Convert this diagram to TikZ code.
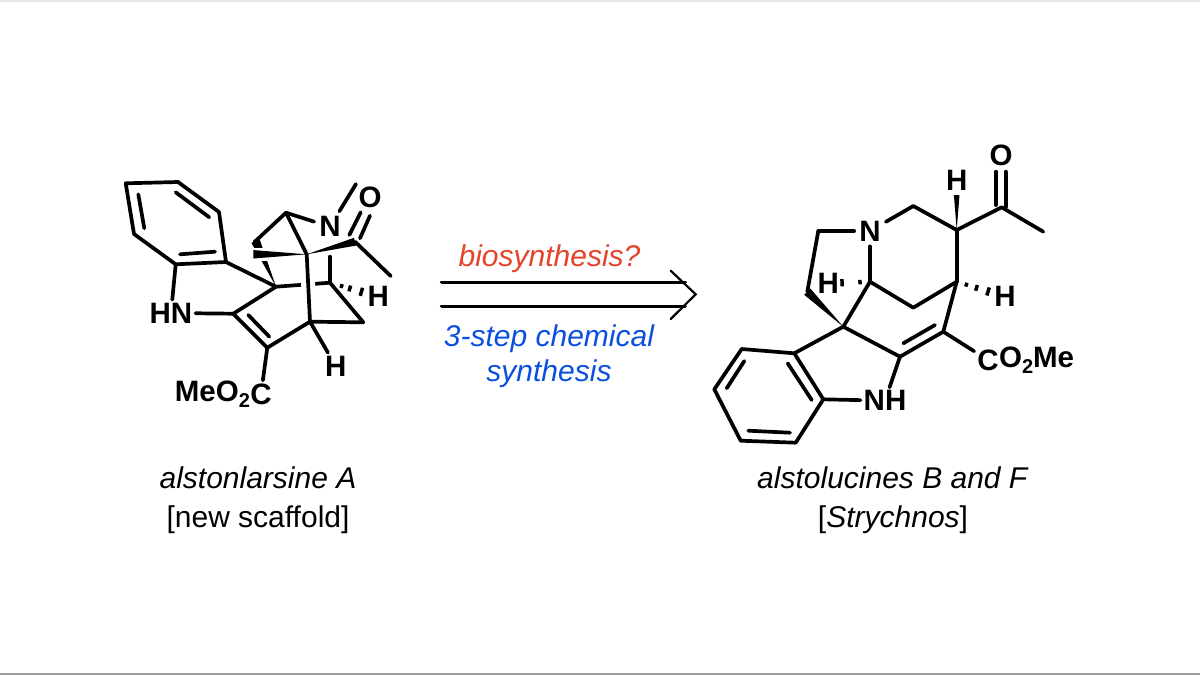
\documentclass[tikz,border=0pt]{standalone}
\usepackage{fontspec}
\setmainfont{Liberation Sans}
\usetikzlibrary{calc}
\definecolor{biored}{HTML}{E5432A}
\definecolor{synblue}{HTML}{0B4FE0}
\newcommand{\lowtwo}{\raisebox{-0.22em}{\fontsize{20}{20}\selectfont 2}}
\newcommand{\wedgebond}[3]{\fill ($(#1)$) -- ($(#2)!#3!90:(#1)$) -- ($(#2)!#3!-90:(#1)$) -- cycle;}
\newcommand{\hashbond}[3]{%
  \foreach \t/\w in {#3}{%
    \coordinate (hp) at ($(#1)!\t!(#2)$);
    \draw[hashstroke] ($(hp)!\w!90:(#2)$) -- ($(hp)!\w!-90:(#2)$);
  }}
\tikzset{
  bond/.style={line width=3.7pt,line cap=round,line join=round,black},
  thinhead/.style={line width=2.2pt,line join=miter,line cap=round,black},
  rail/.style={line width=3.6pt,line cap=round,black},
  hashstroke/.style={line width=3.5pt,black},
  atom/.style={font=\fontsize{29.5}{29.5}\selectfont\bfseries,inner sep=3pt,text=black},
  nitro/.style={atom,inner sep=5pt},
  captext/.style={font=\fontsize{30}{39}\selectfont,align=center,text=black,inner sep=0pt},
  cond/.style={font=\fontsize{30}{35}\selectfont\itshape,align=center,inner sep=0pt},
  halo/.style={white,line width=13pt,line cap=butt}
}
\begin{document}
\begin{tikzpicture}[x=1pt,y=-1pt]
\useasboundingbox (0,0) rectangle (1200,675);
\fill[white] (0,0) rectangle (1200,675);
\fill[black!10] (0,0) rectangle (1200,1.5);
\fill[black!38] (0,673) rectangle (1200,675);

% ---------- left molecule ----------
\coordinate (a1) at (125.7,183.3);
\coordinate (a2) at (178,182);
\coordinate (a3) at (219,212);
\coordinate (a4) at (226,262);
\coordinate (a5) at (175.7,264.3);
\coordinate (a6) at (134,234);
\coordinate (i1s) at (138.3,194.3); \coordinate (i1e) at (144.3,228.3);
\coordinate (i2s) at (175.7,192.3); \coordinate (i2e) at (209.3,217.3);
\coordinate (i3s) at (180,254.3);   \coordinate (i3e) at (215,251.7);
\coordinate (c2) at (233.3,313.7);
\coordinate (c3) at (267.3,347.7);
\coordinate (i4s) at (248.3,315);   \coordinate (i4e) at (269.3,336.7);
\coordinate (c7) at (276,286.7);
\coordinate (c15) at (310,321.7);
\coordinate (apex) at (306.7,254.3);
\coordinate (c14) at (363.3,322.3);
\coordinate (c20) at (330,282.7);
\coordinate (stub) at (330,256.7);
\coordinate (top) at (286,212.7);
\coordinate (wtop) at (255.5,241);
\coordinate (wtopl) at (254.5,242);
\coordinate (bw) at (253.3,254.3);
\coordinate (acet) at (355,241.7);
\coordinate (lme) at (356,184);
\coordinate (lch3) at (390.7,276);
\coordinate (o1s) at (349.3,235); \coordinate (o1e) at (360.7,212.3);
\coordinate (o2s) at (360,238.3); \coordinate (o2e) at (370,215.7);
\node[atom] (lHN) at (171,313) {HN};
\node[nitro] (lN) at (330,226.7) {N};
\node[atom] (lO) at (370,197.3) {O};
\node[atom] (lH1) at (378.3,296.7) {H};
\node[atom] (lH2) at (335.7,366) {H};
\node[atom] (lC) at (261,394) {C};
\node[atom,anchor=east,inner sep=0pt,xshift=3pt] (lMe) at (lC.west) {MeO\lowtwo};

\draw[bond] (a1) -- (a2) -- (a3) -- (a4) -- (a5) -- (a6) -- cycle;
\draw[bond] (i1s) -- (i1e);
\draw[bond] (i2s) -- (i2e);
\draw[bond] (i3s) -- (i3e);
\draw[bond] (a5) -- (lHN);
\draw[bond] (lHN) -- (c2);
\draw[bond] (c2) -- (c3);
\draw[bond] (i4s) -- (i4e);
\draw[bond] (c3) -- (lC);
\draw[bond] (a4) -- (c7);
\draw[bond] (c2) -- (c7);
\draw[bond] (c3) -- (c15);
\draw[bond] (c15) -- (c14);
\draw[bond] (c14) -- (c20);
\draw[bond] (c20) -- (stub);
\draw[bond] (c7) -- (c20);
\draw[bond] (c15) -- (lH2);
\hashbond{c20}{lH1}{0.24/2pt,0.41/3pt,0.65/4.2pt}
\wedgebond{c7}{wtop}{4.5pt}
% halo of the front bridge
\draw[halo] (apex) -- (bw);
\draw[white,line width=10pt] ($(apex)!0.9!(bw)$) -- ($(bw)+(-3,0)$);
\draw[white,line width=14pt,shorten <=12pt,shorten >=32pt] (apex) -- (c15);
\wedgebond{apex}{bw}{4.2pt}
\draw[bond] (top) -- (wtopl);
\draw[bond] (top) -- (lN);
\draw[bond] (top) -- (apex);
\draw[bond] (apex) -- (c15);
\wedgebond{apex}{acet}{4pt}
\draw[bond] (lN) -- (lme);
\draw[bond] (o1s) -- (o1e);
\draw[bond] (o2s) -- (o2e);
\draw[bond] (acet) -- (lch3);

% ---------- arrow ----------
\coordinate (r1s) at (441.7,282.3); \coordinate (r1e) at (685,282.3);
\coordinate (r2s) at (441.7,306.3); \coordinate (r2e) at (685,306.3);
\coordinate (h1) at (670.7,270.7);
\coordinate (h2) at (695.7,294.3);
\coordinate (h3) at (670.7,319);
\draw[rail] (r1s) -- (r1e);
\draw[rail] (r2s) -- (r2e);
\draw[thinhead] (h1) -- (h2) -- (h3);
\node[cond,text=biored] (bio) at (549.5,258.5) {biosynthesis?};
\node[cond,text=synblue] (chem) at (549,356.5) {3-step chemical\\synthesis};

% ---------- right molecule ----------
\coordinate (b1) at (741.7,349);
\coordinate (b2) at (794.3,353.3);
\coordinate (b3) at (823.3,399.3);
\coordinate (b4) at (795.7,442.7);
\coordinate (b5) at (740.7,440.7);
\coordinate (b6) at (714.3,389.3);
\coordinate (j1s) at (744.3,361);   \coordinate (j1e) at (726.7,388.3);
\coordinate (j2s) at (787.7,363.3); \coordinate (j2e) at (811.7,400);
\coordinate (j3s) at (748.3,430.7); \coordinate (j3e) at (790,432.7);
\coordinate (q) at (843.3,326.7);
\coordinate (d1) at (900,356.7);
\coordinate (d2) at (943.3,331.7);
\coordinate (j4s) at (903.3,343.3); \coordinate (j4e) at (935,325);
\coordinate (k1) at (956.7,281.7);
\coordinate (k2) at (956.7,230);
\coordinate (k3) at (913.3,206);
\coordinate (k4) at (818.3,231);
\coordinate (k5) at (807.3,291.7);
\coordinate (k6) at (870,281.7);
\coordinate (k7) at (913.3,307.7);
\coordinate (ac) at (1001.7,207.3);
\coordinate (rch3) at (1043.3,231.7);
\coordinate (wh) at (956.7,195);
\coordinate (p1s) at (996,171.7);   \coordinate (p1e) at (996,205);
\coordinate (p2s) at (1005.7,171.7);\coordinate (p2e) at (1005.7,207);
\node[atom] (rNH) at (885,400.7) {NH};
\node[nitro] (rN) at (870,231) {N};
\node[atom] (rO) at (1001,155) {O};
\node[atom] (rH1) at (956.7,180.7) {H};
\node[atom] (rH2) at (1005,296.7) {H};
\node[atom] (rH3) at (828.3,283.3) {H};
\node[atom] (rC) at (988,360) {C};
\node[atom,anchor=west,inner sep=0pt,xshift=-3pt] (rMe) at (rC.east) {O\lowtwo Me};

\draw[bond] (b1) -- (b2) -- (b3) -- (b4) -- (b5) -- (b6) -- cycle;
\draw[bond] (j1s) -- (j1e);
\draw[bond] (j2s) -- (j2e);
\draw[bond] (j3s) -- (j3e);
\draw[bond] (b3) -- (rNH);
\draw[bond] (rNH) -- (d1);
\draw[bond] (b2) -- (q);
\draw[bond] (q) -- (d1);
\draw[bond] (d1) -- (d2);
\draw[bond] (j4s) -- (j4e);
\draw[bond] (d2) -- (rC);
\draw[bond] (d2) -- (k1);
\draw[bond] (k1) -- (k2);
\draw[bond] (k2) -- (k3);
\draw[bond] (k3) -- (rN);
\draw[bond] (rN) -- (k4);
\draw[bond] (k4) -- (k5);
\wedgebond{q}{k5}{4.4pt}
\draw[bond] (rN) -- (k6);
\draw[bond] (k6) -- (q);
\draw[bond] (k6) -- (k7);
\draw[bond] (k7) -- (k1);
\hashbond{k6}{rH3}{0.24/2.2pt,0.67/3.6pt}
\hashbond{k1}{rH2}{0.2/2pt,0.41/3pt,0.65/4.2pt}
\wedgebond{k2}{wh}{2.8pt}
\draw[bond] (k2) -- (ac);
\draw[bond] (ac) -- (rch3);
\draw[bond] (p1s) -- (p1e);
\draw[bond] (p2s) -- (p2e);

% ---------- captions ----------
\node[captext] (capl) at (258,500) {\textit{alstonlarsine A}\\{}[new scaffold]};
\node[captext] (capr) at (893,500) {\textit{alstolucines B and F}\\{}[\textit{Strychnos}]};
\end{tikzpicture}
\end{document}
